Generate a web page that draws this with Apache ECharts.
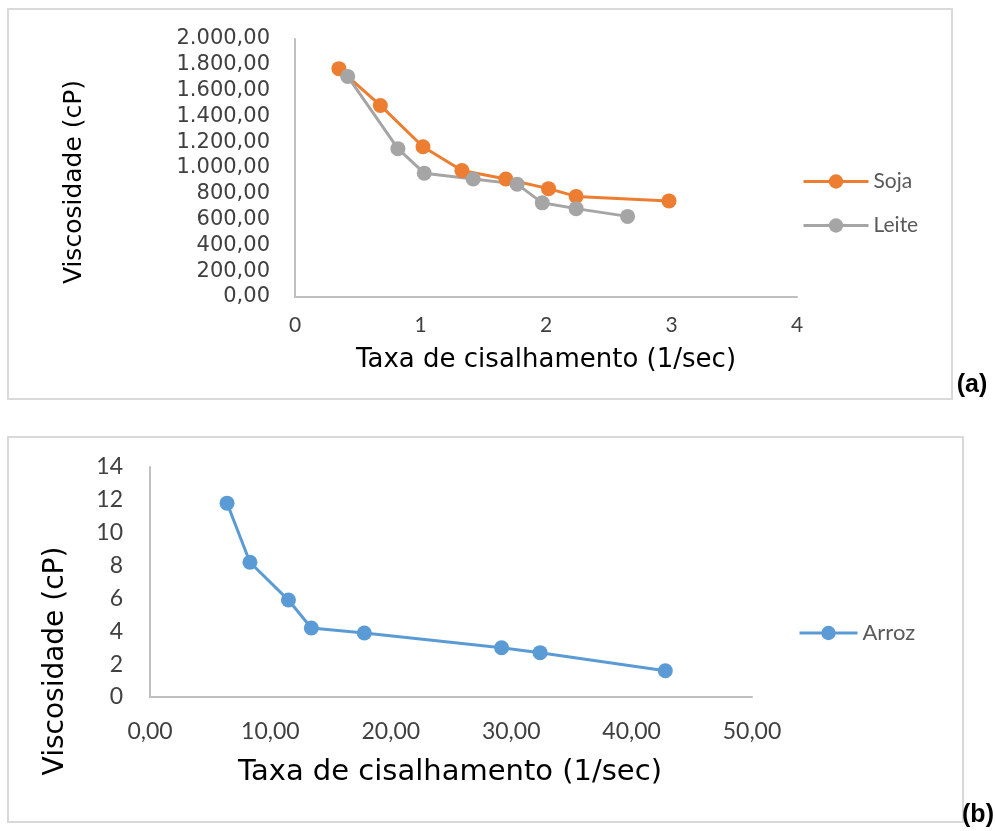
<!DOCTYPE html>
<html>
<head>
<meta charset="utf-8">
<script src="https://cdn.jsdelivr.net/npm/echarts@6/dist/echarts.min.js"></script>
<style>
  html, body { margin: 0; padding: 0; background: #fff; }
  #chart { width: 995px; height: 831px; }
</style>
</head>
<body>
<div id="chart"></div>
<script>
// Panel (a): viscosity vs shear rate for soy and milk samples
const sojaShear = [0.35, 0.68, 1.02, 1.33, 1.68, 2.02, 2.24, 2.98];
const sojaVisc  = [1770, 1485, 1165, 980, 915, 840, 780, 745];
const leiteShear = [0.42, 0.82, 1.03, 1.42, 1.77, 1.97, 2.24, 2.65];
const leiteVisc  = [1710, 1150, 960, 915, 875, 730, 685, 625];

// Panel (b): viscosity vs shear rate for rice sample
const arrozShear = [6.4, 8.3, 11.5, 13.4, 17.8, 29.2, 32.4, 42.8];
const arrozVisc  = [11.8, 8.2, 5.9, 4.2, 3.9, 3.0, 2.7, 1.6];

// Tick labels
const yTicksA = ['0,00', '200,00', '400,00', '600,00', '800,00', '1.000,00',
                 '1.200,00', '1.400,00', '1.600,00', '1.800,00', '2.000,00'];
const xTicksA = ['0', '1', '2', '3', '4'];
const yTicksB = ['0', '2', '4', '6', '8', '10', '12', '14'];
const xTicksB = ['0,00', '10,00', '20,00', '30,00', '40,00', '50,00'];

const titleX = 'Taxa de cisalhamento (1/sec)';
const titleY = 'Viscosidade (cP)';

const pairs = (xs, ys) => xs.map((x, i) => [x, ys[i]]);

const ORANGE = '#ED7D31', GRAY = '#A5A5A5', BLUE = '#5B9BD5';
const AXIS = '#BFBFBF';
const SANS = '"DejaVu Sans", sans-serif';
const CAL = 'Lato, sans-serif';

function valueAxis(gridIndex, min, max, interval, labels, font, size, margin) {
  return {
    type: 'value', gridIndex, min, max, interval,
    splitLine: { show: false },
    axisTick: { show: false },
    axisLine: { show: true, lineStyle: { color: AXIS, width: 2 } },
    axisLabel: {
      color: '#404040', fontFamily: font, fontSize: size, margin,
      formatter: v => labels[Math.round((v - min) / interval)]
    }
  };
}

function lineSeries(name, xi, yi, data, color) {
  return {
    name, type: 'line', xAxisIndex: xi, yAxisIndex: yi, data,
    symbol: 'circle', symbolSize: 15,
    lineStyle: { color, width: 3 },
    itemStyle: { color },
    animation: false
  };
}

const chart = echarts.init(document.getElementById('chart'), null, { renderer: 'canvas' });

chart.setOption({
  backgroundColor: '#fff',
  animation: false,
  grid: [
    { left: 295, top: 39, width: 502, height: 258 },
    { left: 150, top: 467, width: 602, height: 230 }
  ],
  xAxis: [
    valueAxis(0, 0, 4, 1, xTicksA, CAL, 21, 18),
    valueAxis(1, 0, 50, 10, xTicksB, CAL, 23, 23)
  ],
  yAxis: [
    valueAxis(0, 0, 2000, 200, yTicksA, SANS, 21, 25),
    valueAxis(1, 0, 14, 2, yTicksB, CAL, 23, 27)
  ],
  legend: [
    {
      data: ['Soja', 'Leite'], orient: 'vertical',
      left: 797, top: 166, itemWidth: 65, itemHeight: 18, itemGap: 23,
      lineStyle: { width: 3 },
      textStyle: { color: '#595959', fontFamily: CAL, fontSize: 21 }
    },
    {
      data: ['Arroz'], orient: 'vertical',
      left: 793, top: 617, itemWidth: 58, itemHeight: 18,
      lineStyle: { width: 3 },
      textStyle: { color: '#595959', fontFamily: CAL, fontSize: 22 }
    }
  ],
  series: [
    lineSeries('Soja', 0, 0, pairs(sojaShear, sojaVisc), ORANGE),
    lineSeries('Leite', 0, 0, pairs(leiteShear, leiteVisc), GRAY),
    lineSeries('Arroz', 1, 1, pairs(arrozShear, arrozVisc), BLUE)
  ],
  graphic: [
    // panel frames
    { type: 'rect', shape: { x: 8, y: 9, width: 944, height: 390 },
      style: { fill: 'none', stroke: '#D9D9D9', lineWidth: 2 }, silent: true },
    { type: 'rect', shape: { x: 8, y: 437, width: 955, height: 385 },
      style: { fill: 'none', stroke: '#D9D9D9', lineWidth: 2 }, silent: true },
    // axis titles, panel (a)
    { type: 'text', x: 546, y: 360,
      style: { text: titleX, fill: '#000', font: '26px "DejaVu Sans"', align: 'center', verticalAlign: 'middle' } },
    { type: 'text', x: 74, y: 182, rotation: Math.PI / 2,
      style: { text: titleY, fill: '#000', font: '25px "DejaVu Sans"', align: 'center', verticalAlign: 'middle' } },
    // axis titles, panel (b)
    { type: 'text', x: 450, y: 772,
      style: { text: titleX, fill: '#000', font: '29px "DejaVu Sans"', align: 'center', verticalAlign: 'middle' } },
    { type: 'text', x: 56, y: 661, rotation: Math.PI / 2,
      style: { text: titleY, fill: '#000', font: '28px "DejaVu Sans"', align: 'center', verticalAlign: 'middle' } },
    // panel letters
    { type: 'text', x: 972, y: 385,
      style: { text: '(a)', fill: '#000', font: 'bold 25px "Liberation Sans"', align: 'center', verticalAlign: 'middle' } },
    { type: 'text', x: 978, y: 815,
      style: { text: '(b)', fill: '#000', font: 'bold 25px "Liberation Sans"', align: 'center', verticalAlign: 'middle' } }
  ]
});
</script>
</body>
</html>
